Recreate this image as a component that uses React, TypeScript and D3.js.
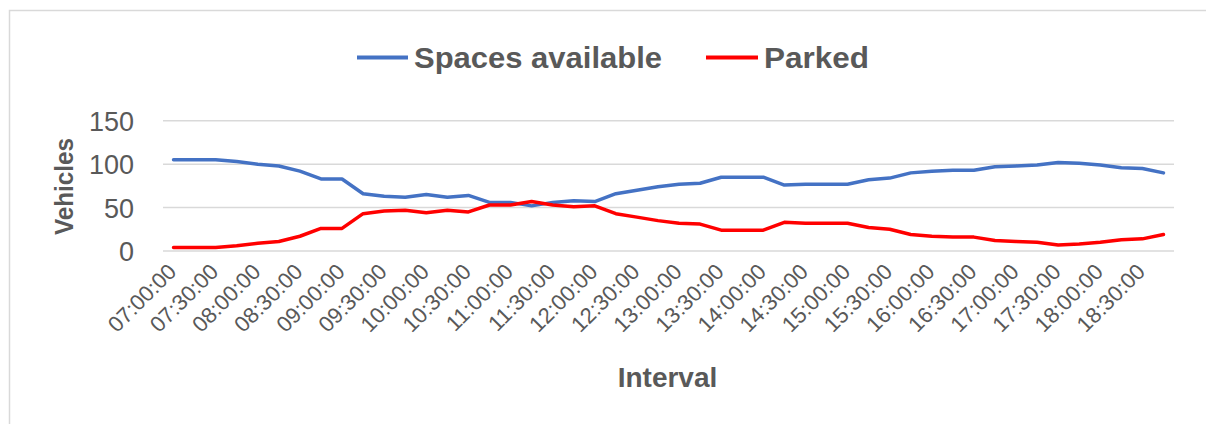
import React from "react";
import * as d3 from "d3";

const times: string[] = [
  "07:00:00","07:15:00","07:30:00","07:45:00","08:00:00","08:15:00","08:30:00","08:45:00",
  "09:00:00","09:15:00","09:30:00","09:45:00","10:00:00","10:15:00","10:30:00","10:45:00",
  "11:00:00","11:15:00","11:30:00","11:45:00","12:00:00","12:15:00","12:30:00","12:45:00",
  "13:00:00","13:15:00","13:30:00","13:45:00","14:00:00","14:15:00","14:30:00","14:45:00",
  "15:00:00","15:15:00","15:30:00","15:45:00","16:00:00","16:15:00","16:30:00","16:45:00",
  "17:00:00","17:15:00","17:30:00","17:45:00","18:00:00","18:15:00","18:30:00","18:45:00",
];

const spacesAvailable: number[] = [
  105,105,105,103,100,98,92,83,83,66,63,62,65,62,64,56,
  56,52,56,58,57,66,70,74,77,78,85,85,85,76,77,77,
  77,82,84,90,92,93,93,97,98,99,102,101,99,96,95,90,
];

const parked: number[] = [
  4,4,4,6,9,11,17,26,26,43,46,47,44,47,45,53,
  53,57,53,51,52,43,39,35,32,31,24,24,24,33,32,32,
  32,27,25,19,17,16,16,12,11,10,7,8,10,13,14,19,
];

const yTicks: number[] = [0, 50, 100, 150];

const seriesNames: string[] = ["Spaces available", "Parked"];
const seriesColors: string[] = ["#4472C4", "#FF0000"];

const W = 1206;
const H = 424;
const plotLeft = 163;
const plotRight = 1174;
const plotTop = 120.8;
const plotBottom = 251;
const textColor = "#595959";
const font = "'Liberation Sans', Arial, sans-serif";

export default function App() {
  const x = d3
    .scaleBand<string>()
    .domain(times)
    .range([plotLeft, plotRight])
    .paddingInner(0)
    .paddingOuter(0);
  const cx = (t: string) => (x(t) as number) + x.bandwidth() / 2;
  const y = d3.scaleLinear().domain([0, 150]).range([plotBottom, plotTop]);

  const line = d3
    .line<number>()
    .x((_, i) => cx(times[i]))
    .y((d) => y(d));

  const series = [spacesAvailable, parked];
  const labelTimes = times.filter((_, i) => i % 2 === 0);

  return (
    <svg
      width={W}
      height={H}
      style={{ position: "absolute", left: 0, top: 0, background: "#fff" }}
      fontFamily={font}
    >
      <rect x={0} y={0} width={W} height={H} fill="#fff" />
      <rect
        x={9.5}
        y={10.5}
        width={W + 10}
        height={H + 10}
        fill="none"
        stroke="#d9d9d9"
        strokeWidth={1.5}
      />

      {/* legend */}
      <g>
        <line x1={357} x2={408} y1={57.5} y2={57.5} stroke={seriesColors[0]} strokeWidth={4} />
        <text
          x={414}
          y={68}
          fontSize={29}
          fontWeight="bold"
          fill={textColor}
          textLength={248}
          lengthAdjust="spacingAndGlyphs"
        >
          {seriesNames[0]}
        </text>
        <line x1={706} x2={758} y1={57.5} y2={57.5} stroke={seriesColors[1]} strokeWidth={4} />
        <text
          x={764}
          y={68}
          fontSize={29}
          fontWeight="bold"
          fill={textColor}
          textLength={105}
          lengthAdjust="spacingAndGlyphs"
        >
          {seriesNames[1]}
        </text>
      </g>

      {/* gridlines */}
      {yTicks.map((t) => (
        <line
          key={t}
          x1={plotLeft}
          x2={plotRight}
          y1={y(t)}
          y2={y(t)}
          stroke="#d9d9d9"
          strokeWidth={1.5}
        />
      ))}

      {/* y tick labels */}
      {yTicks.map((t) => (
        <text
          key={"yl" + t}
          x={134}
          y={y(t) + 10}
          textAnchor="end"
          fontSize={27}
          fill={textColor}
        >
          {t}
        </text>
      ))}

      {/* y axis title */}
      <text
        transform={`translate(73,186.5) rotate(-90)`}
        textAnchor="middle"
        fontSize={25}
        fontWeight="bold"
        fill={textColor}
        textLength={97}
        lengthAdjust="spacingAndGlyphs"
      >
        Vehicles
      </text>

      {/* x tick labels */}
      {labelTimes.map((t) => (
        <text
          key={"xl" + t}
          transform={`translate(${cx(t) + 4},${273}) rotate(-45)`}
          textAnchor="end"
          fontSize={22}
          fill={textColor}
        >
          {t}
        </text>
      ))}

      {/* x axis title */}
      <text
        x={667.5}
        y={387}
        textAnchor="middle"
        fontSize={28}
        fontWeight="bold"
        fill={textColor}
      >
        Interval
      </text>

      {/* lines */}
      {series.map((s, k) => (
        <path
          key={"s" + k}
          d={line(s) as string}
          fill="none"
          stroke={seriesColors[k]}
          strokeWidth={3.5}
          strokeLinejoin="round"
          strokeLinecap="round"
        />
      ))}
    </svg>
  );
}
